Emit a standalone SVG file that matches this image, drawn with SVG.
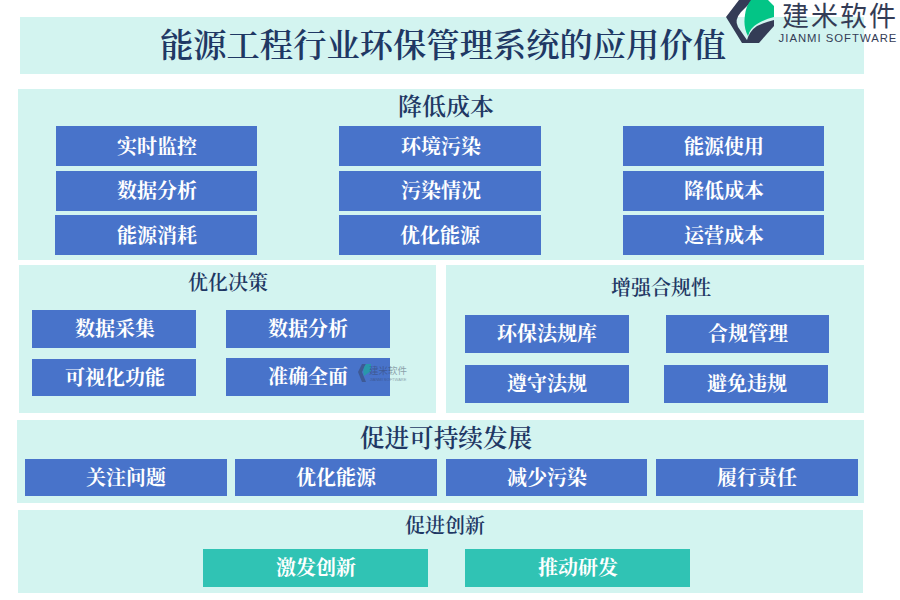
<svg xmlns="http://www.w3.org/2000/svg" width="900" height="600" viewBox="0 0 900 600">
<style>
text{font-family:"Noto Serif CJK SC","Source Han Serif SC",serif;text-anchor:middle}
.p{fill:#d3f4f0}
.b{fill:#4873ca}
.g{fill:#30c3b4}
.t{fill:#fff;font-size:20px;font-weight:700}
.h{fill:#1f3864;font-size:20px;font-weight:600}
.h2{fill:#1f3864;font-size:24px;font-weight:600}
</style>
<rect width="900" height="600" fill="#fff"/>
<g id="title"><rect class="p" x="20" y="17" width="844" height="57"/><text x="443" y="57" fill="#1f3864" font-size="33.300" font-weight="600">能源工程行业环保管理系统的应用价值</text></g>
<g id="logo">
<path d="M739 0H753L741 12Q734 20 738 27L749 43H742L726 17Z" fill="#343c56"/>
<path d="M751 0H768L774 6V17Q765 19 757 24Q750 28 748 36Q743 27 745 15Q746 6 751 0Z" fill="#03c586"/>
<path d="M774 20V26L759 43H746Q749 31 757 26Q765 22 774 20Z" fill="#343c56"/>
<text x="840" y="26" fill="#343c56" font-size="27" letter-spacing="2" style="font-family:'Noto Sans CJK SC',sans-serif">建米软件</text>
<text x="838" y="42" fill="#343c56" font-size="11.300" letter-spacing="1" style="font-family:'Liberation Sans',sans-serif">JIANMI SOFTWARE</text>
</g>
<g id="cost"><rect class="p" x="18" y="89" width="846" height="171"/><text class="h2" x="446" y="115">降低成本</text>
<rect class="b" x="56" y="126" width="201" height="40"/><text class="t" x="157" y="154">实时监控</text>
<rect class="b" x="339" y="126" width="202" height="40"/><text class="t" x="441" y="154">环境污染</text>
<rect class="b" x="623" y="126" width="201" height="40"/><text class="t" x="724" y="154">能源使用</text>
<rect class="b" x="56" y="171" width="201" height="40"/><text class="t" x="157" y="198">数据分析</text>
<rect class="b" x="339" y="171" width="202" height="40"/><text class="t" x="441" y="198">污染情况</text>
<rect class="b" x="623" y="171" width="201" height="40"/><text class="t" x="724" y="198">降低成本</text>
<rect class="b" x="55" y="215" width="202" height="40"/><text class="t" x="157" y="243">能源消耗</text>
<rect class="b" x="339" y="215" width="202" height="40"/><text class="t" x="440" y="243">优化能源</text>
<rect class="b" x="623" y="215" width="201" height="40"/><text class="t" x="724" y="243">运营成本</text>
</g>
<g id="decision"><rect class="p" x="19" y="265" width="417" height="148"/><text class="h" x="228" y="290">优化决策</text>
<rect class="b" x="32" y="310" width="164" height="38"/><text class="t" x="115" y="336">数据采集</text>
<rect class="b" x="226" y="310" width="164" height="38"/><text class="t" x="308" y="336">数据分析</text>
<rect class="b" x="32" y="359" width="164" height="37"/><text class="t" x="115" y="385">可视化功能</text>
<rect class="b" x="226" y="358" width="164" height="38"/><text class="t" x="308" y="384">准确全面</text>
</g>
<g id="watermark" opacity=".45">
<path d="M362 364L358 372L362 382H366L362 372L366 364Z" fill="#343c56"/><path d="M366 364H371V371L364 376Q362 369 366 364Z" fill="#03c586"/>
<text x="388" y="374" fill="#343c56" font-size="9.500" style="font-family:'Noto Sans CJK SC',sans-serif">建米软件</text>
<text x="388" y="381" fill="#343c56" font-size="4" style="font-family:'Liberation Sans',sans-serif">JIANMI SOFTWARE</text>
</g>
<g id="compliance"><rect class="p" x="446" y="265" width="418" height="148"/><text class="h" x="661" y="295">增强合规性</text>
<rect class="b" x="465" y="315" width="164" height="38"/><text class="t" x="547" y="341">环保法规库</text>
<rect class="b" x="666" y="315" width="163" height="38"/><text class="t" x="748" y="341">合规管理</text>
<rect class="b" x="465" y="365" width="164" height="38"/><text class="t" x="547" y="391">遵守法规</text>
<rect class="b" x="664" y="365" width="164" height="38"/><text class="t" x="747" y="391">避免违规</text>
</g>
<g id="sustain"><rect class="p" x="17" y="420" width="847" height="83"/><text class="h2" x="446" y="447" style="font-size:24.600px">促进可持续发展</text>
<rect class="b" x="25" y="459" width="202" height="37"/><text class="t" x="126" y="485">关注问题</text>
<rect class="b" x="235" y="459" width="202" height="37"/><text class="t" x="336" y="485">优化能源</text>
<rect class="b" x="446" y="459" width="201" height="37"/><text class="t" x="547" y="485">减少污染</text>
<rect class="b" x="656" y="459" width="202" height="37"/><text class="t" x="757" y="485">履行责任</text>
</g>
<g id="innovation"><rect class="p" x="18" y="510" width="845" height="83"/><text class="h" x="445" y="533">促进创新</text>
<rect class="g" x="203" y="549" width="225" height="38"/><text class="t" x="316" y="575">激发创新</text>
<rect class="g" x="465" y="549" width="225" height="38"/><text class="t" x="578" y="575">推动研发</text>
</g>
</svg>
